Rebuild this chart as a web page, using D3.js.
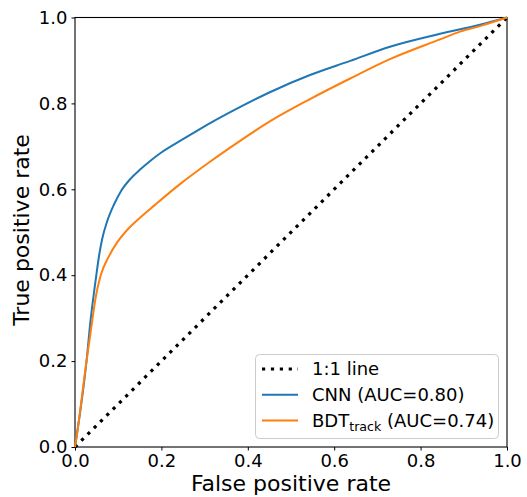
<!DOCTYPE html>
<html>
<head>
<meta charset="utf-8">
<script src="https://cdn.jsdelivr.net/npm/d3@7"></script>
<style>
  body { margin: 0; background: #fff; }
  text { font-family: "DejaVu Sans", sans-serif; fill: #000; }
</style>
</head>
<body>
<div id="chart"></div>
<script>
// ROC curves
const fprCnn = [0, 0.005, 0.027, 0.036, 0.046, 0.050, 0.056, 0.063, 0.075, 0.090, 0.106, 0.129, 0.152, 0.174, 0.199, 0.249, 0.289, 0.320, 0.366, 0.451, 0.544, 0.637, 0.729, 0.845, 0.9375, 1];
const tprCnn = [0, 0.033, 0.203, 0.295, 0.375, 0.405, 0.447, 0.485, 0.527, 0.564, 0.595, 0.625, 0.647, 0.666, 0.685, 0.716, 0.740, 0.758, 0.783, 0.826, 0.866, 0.899, 0.932, 0.962, 0.983, 1];

const fprBdt = [0, 0.005, 0.027, 0.040, 0.048, 0.059, 0.079, 0.098, 0.125, 0.155, 0.183, 0.243, 0.3125, 0.359, 0.451, 0.544, 0.637, 0.729, 0.845, 0.891, 0.9375, 1];
const tprBdt = [0, 0.033, 0.203, 0.295, 0.349, 0.398, 0.445, 0.477, 0.510, 0.538, 0.562, 0.612, 0.664, 0.697, 0.758, 0.810, 0.858, 0.903, 0.949, 0.967, 0.980, 1];

const diagonal = [0, 1];
const ticks = [0, 0.2, 0.4, 0.6, 0.8, 1.0];

const width = 527, height = 497;
const svg = d3.select("#chart").append("svg")
  .attr("width", width)
  .attr("height", height);

const x = d3.scaleLinear().domain([0, 1]).range([75, 507]);
const y = d3.scaleLinear().domain([0, 1]).range([447, 17.5]);

// axes
const xAxis = svg.append("g")
  .attr("transform", `translate(0,${y(0)})`)
  .call(d3.axisBottom(x).tickValues(ticks).tickFormat(d3.format(".1f")).tickSize(3.5).tickPadding(4));
const yAxis = svg.append("g")
  .attr("transform", `translate(${x(0)},0)`)
  .call(d3.axisLeft(y).tickValues(ticks).tickFormat(d3.format(".1f")).tickSize(3.5).tickPadding(4));
[xAxis, yAxis].forEach(g => {
  g.select(".domain").remove();
  g.selectAll("text").attr("font-size", 18).attr("font-family", "DejaVu Sans");
  g.selectAll("line").attr("stroke", "#000").attr("stroke-width", 1);
});

// frame
svg.append("rect")
  .attr("x", x(0)).attr("y", y(1))
  .attr("width", x(1) - x(0)).attr("height", y(0) - y(1))
  .attr("fill", "none").attr("stroke", "#000").attr("stroke-width", 1.1);

const line = d3.line().curve(d3.curveMonotoneX);

// 1:1 line
svg.append("path")
  .attr("d", line(diagonal.map(v => [x(v), y(v)])))
  .attr("fill", "none").attr("stroke", "#000")
  .attr("stroke-width", 3.2).attr("stroke-dasharray", "3.2,5.7");

svg.append("path")
  .attr("d", line(fprCnn.map((v, i) => [x(v), y(tprCnn[i])])))
  .attr("fill", "none").attr("stroke", "#1f77b4").attr("stroke-width", 2);

svg.append("path")
  .attr("d", line(fprBdt.map((v, i) => [x(v), y(tprBdt[i])])))
  .attr("fill", "none").attr("stroke", "#ff7f0e").attr("stroke-width", 2);

// axis titles
svg.append("text")
  .attr("x", (x(0) + x(1)) / 2).attr("y", 491)
  .attr("text-anchor", "middle").attr("font-size", 22)
  .text("False positive rate");
svg.append("text")
  .attr("transform", "rotate(-90)")
  .attr("x", -230).attr("y", 29)
  .attr("text-anchor", "middle").attr("font-size", 22)
  .text("True positive rate");

// legend
const legend = svg.append("g");
legend.append("rect")
  .attr("x", 255.5).attr("y", 354.5).attr("width", 243).attr("height", 84)
  .attr("rx", 4).attr("fill", "#fff").attr("fill-opacity", 0.8)
  .attr("stroke", "#ccc").attr("stroke-width", 1);

const items = [
  { label: "1:1 line", color: "#000", dash: "3.2,5.7", w: 3.2 },
  { label: "CNN (AUC=0.80)", color: "#1f77b4", dash: null, w: 2 },
  { label: "BDT", sub: "track", rest: " (AUC=0.74)", color: "#ff7f0e", dash: null, w: 2 }
];
items.forEach((d, i) => {
  const cy = 369 + i * 25.8;
  legend.append("line")
    .attr("x1", 262).attr("x2", 298).attr("y1", cy).attr("y2", cy)
    .attr("stroke", d.color).attr("stroke-width", d.w)
    .attr("stroke-dasharray", d.dash);
  const t = legend.append("text")
    .attr("x", 312).attr("y", cy).attr("dy", "0.35em")
    .attr("font-size", 18);
  t.append("tspan").text(d.label);
  if (d.sub) {
    t.append("tspan").attr("font-size", 12.6).attr("dy", 4.2).text(d.sub);
    t.append("tspan").attr("dy", -4.2).text(d.rest);
  }
});
</script>
</body>
</html>
